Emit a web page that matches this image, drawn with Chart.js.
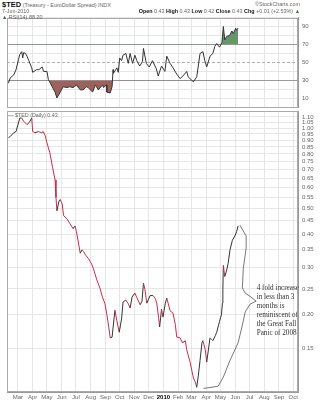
<!DOCTYPE html>
<html>
<head>
<meta charset="utf-8">
<script src="https://cdn.jsdelivr.net/npm/chart.js@4.4.0/dist/chart.umd.min.js"></script>
<style>
  body { margin: 0; background: #fff; width: 320px; height: 400px; overflow: hidden; position: relative;
         font-family: "Liberation Sans", Arial, sans-serif; }
  canvas { position: absolute; left: 0; }
  .t { position: absolute; white-space: nowrap; color: #666; font-size: 5.4px; line-height: 7px; }
  .t b { color: #111; }
</style>
</head>
<body>
<canvas id="rsi" width="320" height="96" style="top:14px"></canvas>
<canvas id="px" width="320" height="290" style="top:110px"></canvas>

<div class="t" style="left:2px;top:1px"><b style="font-size:7.5px">$TED</b> (Treasury - EuroDollar Spread) INDX</div>
<div class="t" style="left:2px;top:8px">7-Jun-2010</div>
<div class="t" style="right:20px;top:1px">&copy;StockCharts.com</div>
<div class="t" style="right:20px;top:8px"><b>Open</b> 0.43 <b>High</b> 0.43 <b>Low</b> 0.42 <b>Close</b> 0.43 <b>Chg</b> +0.01 (+2.53%) <span style="color:#3a7a3a">&#9650;</span></div>
<div class="t" style="left:2px;top:14px"><span style="color:#3a6a3a">&#9650;</span> RSI(14) 88.20</div>
<div class="t" style="left:8px;top:112px"><span style="color:#c0203a">&#8212;</span> $TED (Daily) 0.43</div>

<script>
// x axis: month starts and their labels
const monthTicks = ["2009-03-01","2009-04-01","2009-05-01","2009-06-01","2009-07-01","2009-08-01",
  "2009-09-01","2009-10-01","2009-11-01","2009-12-01","2010-01-01","2010-02-01","2010-03-01",
  "2010-04-01","2010-05-01","2010-06-01","2010-07-01","2010-08-01","2010-09-01","2010-10-01"];
const monthLabels = ["Mar","Apr","May","Jun","Jul","Aug","Sep","Oct","Nov","Dec","2010","Feb","Mar",
  "Apr","May","Jun","Jul","Aug","Sep","Oct"];

// right axis ticks
const priceTicks = [0.15,0.20,0.25,0.30,0.35,0.40,0.45,0.50,0.55,0.60,0.65,0.70,0.75,0.80,0.85,0.90,0.95,1.00,1.05,1.10];
const rsiLabels = [10,30,50,70,90];

// TED spread
const priceDates = ["2009-02-09","2009-02-13","2009-02-20","2009-02-25","2009-03-05","2009-03-09","2009-03-13",
  "2009-03-20","2009-03-25","2009-03-30","2009-04-01","2009-04-06","2009-04-13","2009-04-20","2009-04-23",
  "2009-04-27","2009-05-01","2009-05-07","2009-05-13","2009-05-18","2009-05-20","2009-05-22","2009-05-26",
  "2009-05-29","2009-06-02","2009-06-05","2009-06-11","2009-06-18","2009-06-25","2009-06-29","2009-07-02",
  "2009-07-10","2009-07-14","2009-07-17","2009-07-21","2009-07-27","2009-08-03","2009-08-06","2009-08-14",
  "2009-08-21","2009-08-25","2009-08-31","2009-09-04","2009-09-08","2009-09-11","2009-09-15","2009-09-21",
  "2009-09-25","2009-09-30","2009-10-05","2009-10-08","2009-10-14","2009-10-19","2009-10-23","2009-10-27",
  "2009-11-02","2009-11-06","2009-11-13","2009-11-17","2009-11-20","2009-11-23","2009-11-27","2009-12-04",
  "2009-12-10","2009-12-15","2009-12-18","2009-12-22","2009-12-24","2009-12-28","2009-12-31","2010-01-05",
  "2010-01-08","2010-01-15","2010-01-21","2010-01-26","2010-01-29","2010-02-05","2010-02-10","2010-02-16",
  "2010-02-19","2010-02-26","2010-03-05","2010-03-09","2010-03-12","2010-03-15","2010-03-19","2010-03-23",
  "2010-03-25","2010-03-30","2010-04-02","2010-04-09","2010-04-15","2010-04-20","2010-04-23","2010-04-29",
  "2010-05-03","2010-05-05","2010-05-06","2010-05-07","2010-05-10","2010-05-14","2010-05-17","2010-05-21",
  "2010-05-26","2010-06-01","2010-06-04","2010-06-07"];
const priceValues = [0.92,0.93,0.96,0.97,1.09,1.09,1.06,
  1.03,1.05,1.09,0.97,0.96,0.97,0.96,0.97,
  0.94,0.88,0.81,0.71,0.64,0.55,0.49,0.53,
  0.54,0.52,0.47,0.46,0.44,0.42,0.43,0.41,
  0.34,0.35,0.345,0.335,0.325,0.31,0.30,0.27,
  0.25,0.235,0.22,0.20,0.18,0.164,0.165,0.208,
  0.19,0.172,0.193,0.223,0.227,0.22,0.212,0.233,
  0.241,0.232,0.218,0.225,0.263,0.249,0.221,0.236,
  0.236,0.23,0.221,0.194,0.18,0.21,0.196,0.221,
  0.231,0.207,0.203,0.184,0.165,0.164,0.157,0.16,
  0.148,0.133,0.116,0.112,0.107,0.117,0.135,0.157,
  0.16,0.148,0.133,0.164,0.16,0.167,0.172,0.189,
  0.20,0.221,0.248,0.306,0.278,0.294,0.311,0.35,
  0.38,0.397,0.41,0.43];

// RSI(14)
const rsiDates = ["2009-02-09","2009-02-13","2009-02-20","2009-02-25","2009-03-02","2009-03-05","2009-03-09",
  "2009-03-11","2009-03-13","2009-03-17","2009-03-20","2009-03-24","2009-03-30","2009-04-01","2009-04-09",
  "2009-04-14","2009-04-21","2009-04-24","2009-05-01","2009-05-04","2009-05-12","2009-05-18","2009-05-22",
  "2009-05-29","2009-06-04","2009-06-12","2009-06-18","2009-06-25","2009-07-02","2009-07-10","2009-07-16",
  "2009-07-23","2009-07-27","2009-08-05","2009-08-11","2009-08-17","2009-08-26","2009-08-28","2009-09-03",
  "2009-09-04","2009-09-11","2009-09-15","2009-09-17","2009-09-18","2009-09-25","2009-09-28","2009-10-01",
  "2009-10-05","2009-10-08","2009-10-14","2009-10-19","2009-10-23","2009-10-28","2009-11-02","2009-11-06",
  "2009-11-12","2009-11-18","2009-11-20","2009-11-26","2009-12-02","2009-12-09","2009-12-17","2009-12-21",
  "2009-12-28","2010-01-04","2010-01-08","2010-01-15","2010-01-20","2010-01-29","2010-02-05","2010-02-11",
  "2010-02-19","2010-02-22","2010-03-02","2010-03-05","2010-03-12","2010-03-19","2010-03-25","2010-03-29",
  "2010-04-02","2010-04-09","2010-04-15","2010-04-19","2010-04-23","2010-04-29","2010-05-04","2010-05-07",
  "2010-05-10","2010-05-14","2010-05-20","2010-05-25","2010-05-28","2010-06-02","2010-06-04","2010-06-07"];
const rsiValues = [27,33,36,42,53,59,62,
  55,61,60,57,52,44,39,42,
  42,45,40,40,31,23,17,10.5,
  17,23,22,23,22,25,19.5,19.5,
  23,22,17,25,19.5,25,22,25,
  17,16,23,42,38,44,39,55,
  52,58,60,49,60,49,58,52,
  46,51,65.6,49,45,52,43,35,
  46,40,57,49,45,37,32,35,
  40,34,30,28.5,34,60,62,52,
  45,57,60,68,71,67,72,90,
  75,79,80,85,82,88,86,88.2];

// annotation: brace (day offset, price) and its note
const bracePath = [[467,0.433],[480,0.394],[480,0.356],[474,0.299],[472,0.252],[478,0.241],[488,0.2345],
  [501,0.225],[488,0.219],[478,0.205],[472,0.183],[463,0.157],[446,0.135],[432,0.117],[421,0.108],[390,0.106]];
const noteLines = ["4 fold increase","in less than 3","months is","reminiscent of","the Great Fall","Panic of 2008."];

const DAY0 = Date.UTC(2009, 2, 1);
function day(s) {
  const [y, m, d] = s.split("-").map(Number);
  return (Date.UTC(y, m - 1, d) - DAY0) / 86400000;
}

const GRID = "#e6e6e6";
const X_MIN = -23, X_MAX = 589;

// no extra room for edge labels, keep the plot box where it is
function noPad(s) {
  s.paddingTop = 0; s.paddingBottom = 0; s.paddingLeft = 0; s.paddingRight = 0;
}

function xAxis(showLabels) {
  return {
    type: "linear",
    min: X_MIN,
    max: X_MAX,
    afterBuildTicks: (s) => { s.ticks = monthTicks.map((t) => ({ value: day(t) })); },
    afterFit: (s) => { s.height = showLabels ? 8 : 2.6; noPad(s); },
    grid: { color: GRID, drawTicks: false },
    border: { color: "#999" },
    ticks: {
      display: showLabels,
      autoSkip: false,
      maxRotation: 0,
      padding: 2,
      callback: (v, i) => monthLabels[i],
      font: (c) => ({ size: 6, weight: monthLabels[c.index] === "2010" ? "bold" : "normal" }),
      color: (c) => (monthLabels[c.index] === "2010" ? "#000" : "#666"),
    },
  };
}

// draws the left/top edges of the plot box
const frame = {
  id: "frame",
  afterDraw(chart) {
    const { ctx, chartArea: a } = chart;
    ctx.save();
    ctx.strokeStyle = "#aaa";
    ctx.lineWidth = 1;
    ctx.strokeRect(Math.round(a.left) + 0.5, Math.round(a.top) + 0.5,
      Math.round(a.right - a.left) - 1, Math.round(a.bottom - a.top) - 1);
    ctx.restore();
  },
};

// RSI panel
const rsiCtx = document.getElementById("rsi").getContext("2d");
const rsiPts = rsiDates.map((d, i) => ({ x: day(d), y: rsiValues[i] }));
new Chart(rsiCtx, {
  type: "line",
  data: {
    datasets: [
      {
        data: rsiPts,
        borderColor: "#333",
        borderWidth: 1,
        pointRadius: 0,
        fill: { target: { value: 70 }, above: "rgb(104,150,104)", below: "rgba(0,0,0,0)" },
      },
      {
        data: rsiPts,
        borderWidth: 0,
        borderColor: "rgba(0,0,0,0)",
        pointRadius: 0,
        fill: { target: { value: 30 }, above: "rgba(0,0,0,0)", below: "rgb(158,98,92)" },
      },
    ],
  },
  options: {
    responsive: false,
    animation: false,
    devicePixelRatio: 1,
    layout: { padding: { left: 7, right: 0, top: 3.5, bottom: 0 } },
    plugins: { legend: { display: false }, tooltip: { enabled: false } },
    scales: {
      x: xAxis(false),
      y: {
        position: "right",
        min: 0,
        max: 100,
        afterFit: (s) => { s.width = 22; noPad(s); },
        grid: {
          drawTicks: false,
          color: (c) => {
            const v = c.tick && c.tick.value;
            if (v === 70 || v === 30) return "#9a9a9a";
            if (v === 50) return "#b0b0b0";
            return GRID;
          },
        },
        border: { color: "#999", dash: (c) => (c.tick && c.tick.value === 50 ? [3, 2] : []) },
        ticks: {
          stepSize: 10,
          autoSkip: false,
          padding: 4,
          font: { size: 6 },
          color: "#666",
          callback: (v) => (rsiLabels.includes(v) ? String(v) : ""),
        },
      },
    },
  },
  plugins: [frame],
});

// note + brace on the price panel
const note = {
  id: "note",
  afterDatasetsDraw(chart) {
    const { ctx, scales: { x, y } } = chart;
    ctx.save();
    ctx.strokeStyle = "#555";
    ctx.lineWidth = 0.8;
    ctx.beginPath();
    bracePath.forEach(([d, v], i) => {
      const px = x.getPixelForValue(d), py = y.getPixelForValue(v);
      if (i === 0) ctx.moveTo(px, py); else ctx.lineTo(px, py);
    });
    ctx.stroke();

    const tx = x.getPixelForValue(502);
    const ty = y.getPixelForValue(0.252);
    ctx.fillStyle = "#333";
    ctx.font = '9px "Liberation Serif", "Times New Roman", serif';
    ctx.textBaseline = "middle";
    noteLines.forEach((line, i) => {
      ctx.save();
      ctx.translate(tx, ty + i * 9);
      ctx.scale(0.8, 1);
      ctx.fillText(line, 0, 0);
      ctx.restore();
    });
    ctx.restore();
  },
};

// price panel
const pxCtx = document.getElementById("px").getContext("2d");
new Chart(pxCtx, {
  type: "line",
  data: {
    datasets: [
      {
        data: priceDates.map((d, i) => ({ x: day(d), y: priceValues[i] })),
        borderWidth: 1,
        pointRadius: 0,
        borderColor: "#cc2a4a",
        segment: {
          borderColor: (c) => (c.p1.parsed.y >= c.p0.parsed.y ? "#333" : "#cc2a4a"),
        },
      },
    ],
  },
  options: {
    responsive: false,
    animation: false,
    devicePixelRatio: 1,
    layout: { padding: { left: 7, right: 0, top: 1, bottom: 0 } },
    plugins: { legend: { display: false }, tooltip: { enabled: false } },
    scales: {
      x: xAxis(true),
      y: {
        type: "logarithmic",
        position: "right",
        min: 0.1028,
        max: 1.158,
        afterBuildTicks: (s) => { s.ticks = priceTicks.map((v) => ({ value: v })); },
        afterFit: (s) => { s.width = 22; noPad(s); },
        grid: { color: GRID, drawTicks: false },
        border: { color: "#999" },
        ticks: {
          autoSkip: false,
          padding: 4,
          font: { size: 6 },
          color: "#666",
          callback: (v) => Number(v).toFixed(2),
        },
      },
    },
  },
  plugins: [frame, note],
});
</script>
</body>
</html>
